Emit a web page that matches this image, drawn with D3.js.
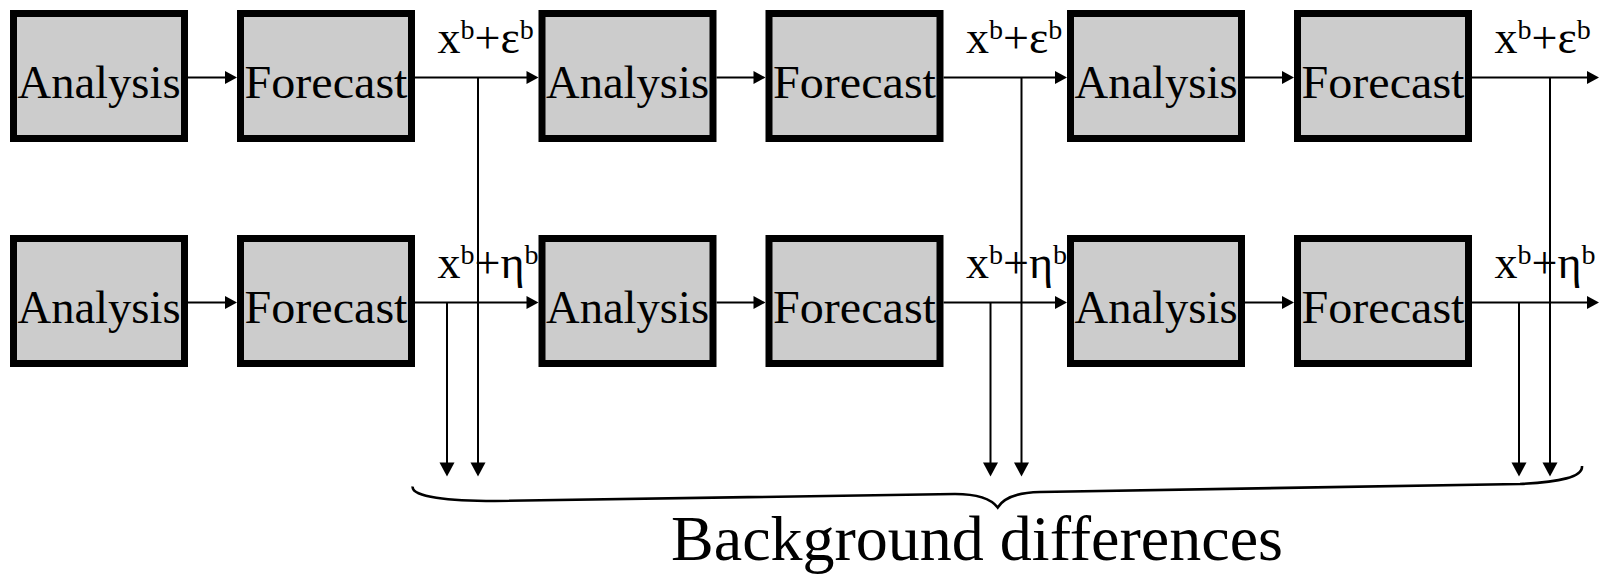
<!DOCTYPE html>
<html>
<head>
<meta charset="utf-8">
<script src="https://cdn.jsdelivr.net/npm/d3@7"></script>
<style>
  html, body { margin: 0; padding: 0; background: #fff; }
  svg { display: block; }
</style>
</head>
<body>
<svg id="chart" width="1605" height="574"></svg>
<script>
// ---- data ----
const cycles = [1, 2, 3];                       // assimilation cycles
const stages = ["Analysis", "Forecast"];        // boxes in each cycle
const members = ["ε", "η"];                     // perturbation symbol of each ensemble row
const baseSymbol = "x";
const supSymbol = "b";
const footLabel = "Background differences";

// ---- layout ----
const FONT = "'Liberation Serif', monospace";
// make sure the serif face is resolved before drawing
const cv = document.createElement("canvas").getContext("2d");
["47px", "46px", "28px", "64px"].forEach(sz => {
  cv.font = sz + " " + FONT;
  cv.measureText("Analysis Forecast Background differences xb+εηb");
});

const boxW = 178, boxH = 132, border = 7;
const svg = d3.select("#chart");

const xCycle = d3.scaleLinear().domain([0, 1]).range([10, 538.5]);       // left edge of each cycle
const xStage = d3.scaleOrdinal().domain(stages).range([0, 227]);         // offset of a stage in a cycle
const yRow = d3.scaleOrdinal().domain(members).range([10, 235]);         // top of each ensemble row
const rowMid = m => yRow(m) + boxH / 2 + 1.5;
const fcRight = i => xCycle(i) + xStage("Forecast") + boxW;
const tapShift = { "ε": [63, 78, 78], "η": [32, 47, 47] };
const tapTip = 476.5;
const lastTip = 1599;

const gLabels = svg.append("g");
const gLines = svg.append("g");
const gBoxes = svg.append("g");
const gHeads = svg.append("g");

function headRight(x, y, len = 12, half = 6.5) {
  gHeads.append("path").attr("d", `M${x},${y}L${x - len},${y - half}L${x - len},${y + half}Z`).attr("fill", "#000");
}
function headDown(x, y, len = 14, half = 7.5) {
  gHeads.append("path").attr("d", `M${x},${y}L${x - half},${y - len}L${x + half},${y - len}Z`).attr("fill", "#000");
}
function line(x1, y1, x2, y2) {
  gLines.append("line").attr("x1", x1).attr("y1", y1).attr("x2", x2).attr("y2", y2)
    .attr("stroke", "#000").attr("stroke-width", 2);
}

members.forEach((m, r) => {
  const y = rowMid(m);
  cycles.forEach((c, i) => {
    stages.forEach(s => {
      const x0 = xCycle(i) + xStage(s);
      gBoxes.append("rect")
        .attr("x", x0 + border / 2).attr("y", yRow(m) + border / 2)
        .attr("width", boxW - border).attr("height", boxH - border)
        .attr("fill", "#cccccc").attr("stroke", "#000").attr("stroke-width", border);
      gBoxes.append("text")
        .attr("x", x0 + boxW / 2).attr("y", yRow(m) + 88)
        .attr("text-anchor", "middle").attr("font-size", 47).attr("font-family", FONT)
        .attr("textLength", boxW - 15).attr("lengthAdjust", "spacingAndGlyphs")
        .text(s);
    });
    const aR = xCycle(i) + boxW, fL = xCycle(i) + xStage("Forecast");
    line(aR, y, fL - 4, y); headRight(fL, y);
    const fR = fcRight(i);
    const nx = i < cycles.length - 1 ? xCycle(i + 1) : lastTip;
    line(fR, y, nx - 4, y); headRight(nx, y);
    const tx = fR + tapShift[m][i];
    line(tx, y, tx, tapTip - 6); headDown(tx, tapTip);
    const t = gLabels.append("text").attr("x", fR + 22.5).attr("y", yRow(m) + 43)
      .attr("font-size", 46).attr("font-family", FONT);
    t.append("tspan").text(baseSymbol);
    t.append("tspan").attr("font-size", 28).attr("dy", -14).text(supSymbol);
    t.append("tspan").attr("dy", 14).text("+" + m);
    t.append("tspan").attr("font-size", 28).attr("dy", -14).text(supSymbol);
  });
});

svg.append("path")
  .attr("d", "M412.7,486.5 C411,497 450,501 495,501 L955,494 C980,494 992,500 997.7,507.5 C1003,499 1015,492.5 1040,492 L1520,484 C1560,482 1583,477 1582,466")
  .attr("fill", "none").attr("stroke", "#000").attr("stroke-width", 2.6);

svg.append("text").attr("x", 977).attr("y", 560).attr("text-anchor", "middle")
  .attr("font-size", 64).attr("font-family", FONT).text(footLabel);

if (document.fonts && document.fonts.load) {
  document.fonts.load("47px 'Liberation Serif'").then(() => {
    svg.selectAll("text").attr("font-family", FONT);
  }).catch(() => {});
}
</script>
</body>
</html>
